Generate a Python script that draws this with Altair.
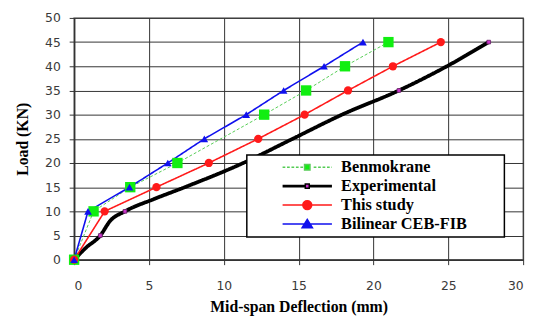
import math
import altair as alt
import pandas as pd

series = ["Benmokrane", "Experimental", "This study", "Bilinear CEB-FIB"]

ben_x = [0, 1.3, 3.75, 6.9, 12.7, 15.5, 18.1, 21.0]
ben_y = [0, 10, 15, 20, 30, 35, 40, 45]

exp_x = [0, 0.8, 1.75, 2.4, 3.4, 5.3, 7.4, 11.3, 14.6, 17.9, 21.7, 24.9, 27.7]
exp_y = [0, 2.5, 5, 8, 10, 12.5, 15, 20, 25, 30, 35, 40, 45]
exp_marked = [True, False, True, False, True, False, False, False, False, False, True, False, True]

study_x = [0, 2.04, 5.5, 9.0, 12.3, 15.4, 18.3, 21.3, 24.5]
study_y = [0, 10, 15, 20, 25, 30, 35, 40, 45]

ceb_x = [0, 0.93, 3.7, 6.26, 8.7, 11.5, 14.0, 16.7, 19.3]
ceb_y = [0, 10, 15, 20, 25, 30, 35, 40, 45]

line_colors = ["#55cc55", "#000000", "#ff1a1a", "#1010ee"]
fill_colors = ["#11ee11", "#cc33cc", "#ff1a1a", "#1010ee"]
shapes = ["square", "square", "circle", "triangle-up"]
sizes = [110, 14, 70, 60]
dashes = [[3, 2], [1, 0], [1, 0], [1, 0]]
widths = [1.0, 3.8, 1.6, 1.6]
interps = ["linear", "monotone", "linear", "linear"]

rows = []
for name, xs_, ys_, marks in [
    ("Benmokrane", ben_x, ben_y, [True] * len(ben_x)),
    ("Experimental", exp_x, exp_y, exp_marked),
    ("This study", study_x, study_y, [True] * len(study_x)),
    ("Bilinear CEB-FIB", ceb_x, ceb_y, [True] * len(ceb_x)),
]:
    for i, (x, y, m) in enumerate(zip(xs_, ys_, marks)):
        rows.append({"series": name, "x": x, "y": y, "idx": i, "marked": m})
df = pd.DataFrame(rows)

# legend symbol paths (line with marker)
def dash_path(a, b, d=0.55, g=0.35, lo=9.2, hi=10.4):
    parts = []
    p = a
    while p < b:
        q = min(p + d, b)
        if q <= lo or p >= hi:
            parts.append(f"M{p:.2f},0L{q:.2f},0")
        p = q + g
    return "".join(parts)

def circle_path(cx, r, n=16):
    pts = [(cx + r * math.cos(2 * math.pi * k / n), r * math.sin(2 * math.pi * k / n)) for k in range(n)]
    return "M" + "L".join(f"{a:.3f},{b:.3f}" for a, b in pts) + "Z"

leg_paths = [
    dash_path(4.8, 14.8) + "M9.25,-0.55L10.35,-0.55L10.35,0.55L9.25,0.55Z",
    "M4.8,-0.12L9.4,-0.12M4.8,0.12L9.4,0.12M10.2,-0.12L14.8,-0.12M10.2,0.12L14.8,0.12"
    "M9.4,-0.42L10.2,-0.42L10.2,0.42L9.4,0.42Z",
    "M4.8,0L14.8,0" + circle_path(9.8, 0.9),
    "M4.8,0L14.8,0M9.8,-0.95L10.85,0.75L8.75,0.75Z",
]
leg_strokes = ["#55cc55", "#000000", "#ff1a1a", "#1010ee"]

xs = alt.X("x:Q", scale=alt.Scale(domain=[0, 30], nice=False),
           axis=alt.Axis(values=[0, 5, 10, 15, 20, 25, 30], title="Mid-span Deflection (mm)"))
ys = alt.Y("y:Q", scale=alt.Scale(domain=[0, 50], nice=False),
           axis=alt.Axis(values=list(range(0, 55, 5)), title="Load (KN)"))

base = alt.Chart(df)

line_layers = []
for name, lc, dsh, w, ip in zip(series, line_colors, dashes, widths, interps):
    line_layers.append(
        base.transform_filter(alt.datum.series == name)
        .mark_line(color=lc, strokeDash=dsh, strokeWidth=w, interpolate=ip)
        .encode(x=xs, y=ys, order="idx:Q")
    )

point_layers = []
for name, shp, sz, fc in zip(series, shapes, sizes, fill_colors):
    extra = {}
    if name == "Experimental":
        extra = {"stroke": "#662266", "strokeWidth": 0.8}
    point_layers.append(
        base.transform_filter((alt.datum.series == name) & (alt.datum.marked == True))
        .mark_point(filled=True, opacity=1, shape=shp, size=sz, color=fc, **extra)
        .encode(x=xs, y=ys)
    )

# trailing non-breaking spaces closed by a zero-width space so they are not trimmed
PAD = "\u00a0" * 8 + "\u200b"
leg = alt.Legend(title=None, labelExpr=f"datum.label + '{PAD}'")
legend_layer = base.transform_filter("datum.x < -1").mark_point(filled=True).encode(
    x=xs, y=ys,
    shape=alt.Shape("series:N", scale=alt.Scale(domain=series, range=leg_paths), legend=leg),
    fill=alt.Fill("series:N", scale=alt.Scale(domain=series, range=fill_colors), legend=leg),
    stroke=alt.Stroke("series:N", scale=alt.Scale(domain=series, range=leg_strokes), legend=leg),
)

chart = alt.layer(*line_layers, *point_layers, legend_layer).properties(
    width=455, height=245,
    autosize=alt.AutoSizeParams(type="none"),
    padding={"left": 67, "top": 8, "right": 10, "bottom": 56},
).configure_view(
    stroke="#888888", strokeWidth=1.5
).configure_axis(
    grid=True, gridColor="#333333", gridWidth=1,
    domainColor="#333333", domainWidth=1.5,
    tickColor="#333333", tickSize=5,
    labelFont="DejaVu Sans", labelFontSize=12.5, labelColor="#3a3a3a",
    titleFont="Liberation Serif", titleFontSize=16, titleFontWeight="bold", titleColor="#000000",
).configure_axisX(
    labelPadding=15, titlePadding=7,
).configure_axisY(
    labelPadding=9, titlePadding=14,
).configure_legend(
    orient="none", legendX=175, legendY=139,
    padding=4, rowPadding=2.2,
    symbolSize=100, symbolStrokeWidth=1.5, symbolOpacity=1,
    labelOffset=75, labelFont="Liberation Serif", labelFontSize=16.5,
    labelFontWeight="bold", labelColor="#000000", labelLimit=0,
    fillColor="white", strokeColor="#000000", strokeWidth=1.5,
)

chart.save("out.html", embed_options={"renderer": "svg", "actions": False})
